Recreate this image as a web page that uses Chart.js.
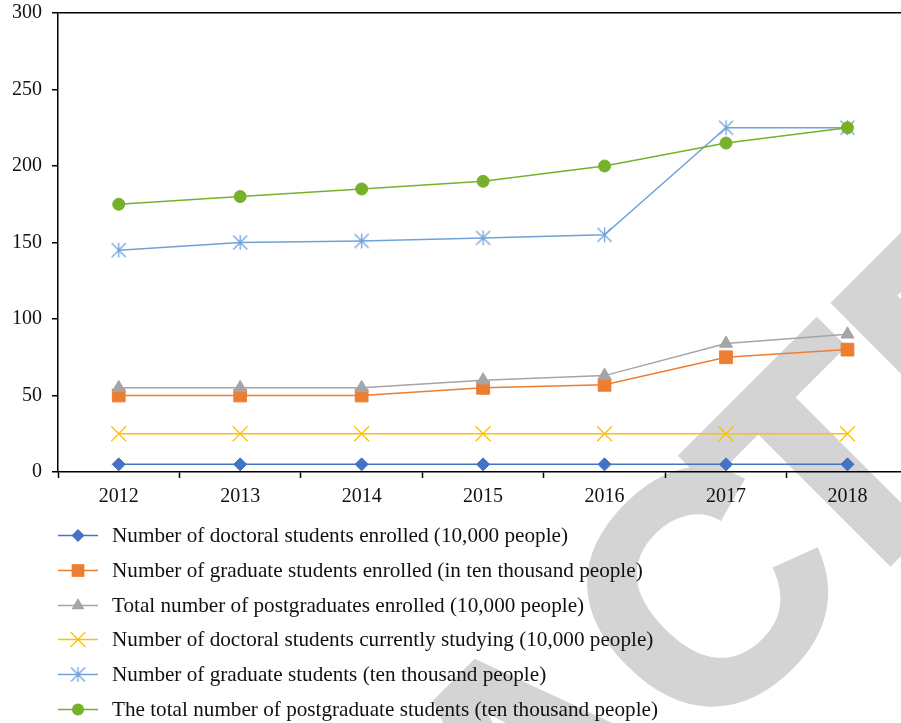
<!DOCTYPE html>
<html>
<head>
<meta charset="utf-8">
<script src="https://cdn.jsdelivr.net/npm/chart.js"></script>
<style>
html,body{margin:0;padding:0;background:#fff;overflow:hidden;width:901px;height:723px}
#wrap{position:absolute;left:0;top:0;width:920px;height:723px}
</style>
</head>
<body>
<div id="wrap"><canvas id="c" width="920" height="723"></canvas></div>
<script>
// ---- data ----
const years = ['2012', '2013', '2014', '2015', '2016', '2017', '2018'];
const doctoralEnrolled = [5, 5, 5, 5, 5, 5, 5];
const graduateEnrolled = [50, 50, 50, 55, 57, 75, 80];
const totalEnrolled = [55, 55, 55, 60, 63, 84, 90];
const doctoralStudying = [25, 25, 25, 25, 25, 25, 25];
const graduateStudents = [145, 150, 151, 153, 155, 225, 225];
const totalStudents = [175, 180, 185, 190, 200, 215, 225];
const seriesLabels = [
  'Number of doctoral students enrolled (10,000 people)',
  'Number of graduate students enrolled (in ten thousand people)',
  'Total number of postgraduates enrolled (10,000 people)',
  'Number of doctoral students currently studying (10,000 people)',
  'Number of graduate students (ten thousand people)',
  'The total number of postgraduate students (ten thousand people)'
];
const yMin = 0, yMax = 300, yStep = 50;

// ---- styles ----
const colors = ['#4472C4', '#ED7D31', '#A5A5A5', '#FFC000', '#6FA2D8', '#76B12B'];
const styles = ['rectRot', 'rect', 'triangle', 'crossRot', 'star', 'circle'];
const radii = [6.5, 9, 7.5, 10.5, 7, 6];

function makeStar(color) {
  const c = document.createElement('canvas');
  c.width = 17; c.height = 17;
  const g = c.getContext('2d');
  g.strokeStyle = color; g.lineWidth = 1.3;
  const h = 8.5, r = 7.5, d = 7;
  g.beginPath();
  g.moveTo(h, h - r); g.lineTo(h, h + r);
  g.moveTo(h - d, h - d); g.lineTo(h + d, h + d);
  g.moveTo(h - d, h + d); g.lineTo(h + d, h - d);
  g.stroke();
  return c;
}
const starImg = makeStar(colors[4]);

const allSeries = [doctoralEnrolled, graduateEnrolled, totalEnrolled, doctoralStudying, graduateStudents, totalStudents];

const datasets = allSeries.map((d, i) => ({
  label: seriesLabels[i],
  data: d,
  borderColor: colors[i],
  backgroundColor: colors[i],
  borderWidth: 1.5,
  pointStyle: styles[i] === 'star' ? starImg : styles[i],
  pointRadius: radii[i],
  pointHoverRadius: radii[i],
  pointBorderWidth: styles[i] === 'crossRot' ? 1.3 : 1,
  pointBorderColor: colors[i],
  pointBackgroundColor: colors[i],
  tension: 0,
  fill: false,
  order: 6 - i
}));

function drawMarker(ctx, style, x, y, r, color) {
  ctx.save();
  ctx.fillStyle = color; ctx.strokeStyle = color; ctx.lineWidth = 1;
  ctx.beginPath();
  if (style === 'rectRot') {
    ctx.moveTo(x, y - r); ctx.lineTo(x + r, y); ctx.lineTo(x, y + r); ctx.lineTo(x - r, y); ctx.closePath();
    ctx.fill();
  } else if (style === 'rect') {
    const s = r * Math.SQRT2;
    ctx.rect(x - s / 2, y - s / 2, s, s); ctx.fill();
  } else if (style === 'triangle') {
    ctx.moveTo(x, y - r); ctx.lineTo(x + 0.866 * r, y + 0.5 * r); ctx.lineTo(x - 0.866 * r, y + 0.5 * r); ctx.closePath();
    ctx.fill();
  } else if (style === 'crossRot') {
    const d = r * 0.7071; ctx.lineWidth = 1.3;
    ctx.moveTo(x - d, y - d); ctx.lineTo(x + d, y + d);
    ctx.moveTo(x - d, y + d); ctx.lineTo(x + d, y - d); ctx.stroke();
  } else if (style === 'star') {
    ctx.drawImage(starImg, x - starImg.width / 2, y - starImg.height / 2);
  } else if (style === 'circle') {
    ctx.arc(x, y, r, 0, Math.PI * 2); ctx.fill();
  }
  ctx.restore();
}

const legendPlugin = {
  id: 'customLegend',
  afterDraw(chart) {
    const ctx = chart.ctx;
    ctx.save();
    ctx.font = '21.2px "Liberation Serif", "Times New Roman", serif';
    ctx.textBaseline = 'middle';
    ctx.textAlign = 'left';
    const x0 = 58, x1 = 98, xm = 78, xt = 112, top = 535, gap = 34.8;
    seriesLabels.forEach((lab, i) => {
      const y = Math.round(top + i * gap) + 0.5;
      ctx.strokeStyle = colors[i]; ctx.lineWidth = 1.5;
      ctx.beginPath(); ctx.moveTo(x0, y); ctx.lineTo(x1, y); ctx.stroke();
      drawMarker(ctx, styles[i], xm, y, radii[i], colors[i]);
      ctx.fillStyle = '#111';
      ctx.fillText(lab, xt, y + 1);
    });
    ctx.restore();
  }
};

const watermarkPlugin = {
  id: 'watermark',
  beforeDraw(chart) {
    const ctx = chart.ctx;
    ctx.save();
    ctx.font = 'bold 324px "Liberation Sans", Arial, sans-serif';
    ctx.fillStyle = '#d4d4d4';
    ctx.strokeStyle = '#d4d4d4';
    ctx.lineWidth = 6;
    ctx.lineJoin = 'miter';
    ctx.textBaseline = 'alphabetic';
    ctx.textAlign = 'left';
    ctx.translate(837, 616);
    ctx.rotate(-Math.PI / 4);
    const letters = 'RETRACTED'.split('');
    const w = letters.map(l => ctx.measureText(l).width);
    const pos = [];
    pos[6] = 0;
    pos[7] = w[6];
    pos[8] = w[6] + w[7];
    const shift = [15, 15, 15, 15, -5, 40];
    for (let i = 5; i >= 0; i--) pos[i] = pos[i + 1] - w[i] + shift[i];
    letters.forEach((l, i) => {
      ctx.fillText(l, pos[i], 0);
      ctx.strokeText(l, pos[i], 0);
    });
    ctx.restore();
  }
};

const fontTicks = { family: '"Liberation Serif", "Times New Roman", serif', size: 20 };

new Chart(document.getElementById('c'), {
  type: 'line',
  data: { labels: years, datasets: datasets },
  options: {
    responsive: false,
    devicePixelRatio: 1,
    animation: false,
    layout: { padding: { top: 13, right: 10, bottom: 211, left: 0 } },
    plugins: { legend: { display: false }, tooltip: { enabled: false } },
    scales: {
      x: {
        type: 'category',
        offset: true,
        afterFit(s) { s.height = 40; s.paddingLeft = 0; s.paddingRight = 0; },
        grid: {
          offset: true,
          drawOnChartArea: false,
          drawTicks: true,
          tickLength: 6,
          tickColor: '#000',
          tickWidth: 1.5
        },
        border: { display: true, color: '#000', width: 1.5 },
        ticks: { color: '#111', font: fontTicks, padding: 7, maxRotation: 0 }
      },
      y: {
        min: yMin, max: yMax,
        afterFit(s) { s.width = 58; s.paddingTop = 0; s.paddingBottom = 0; },
        grid: {
          drawOnChartArea: true,
          color: ctx => (ctx.tick && ctx.tick.value === yMax) ? '#000' : 'rgba(0,0,0,0)',
          lineWidth: 1.5,
          tickLength: 6,
          tickColor: '#000',
          tickWidth: 1.5
        },
        border: { display: true, color: '#000', width: 1.5 },
        ticks: { stepSize: yStep, color: '#111', font: fontTicks, padding: 10 }
      }
    }
  },
  plugins: [watermarkPlugin, legendPlugin]
});
</script>
</body>
</html>
